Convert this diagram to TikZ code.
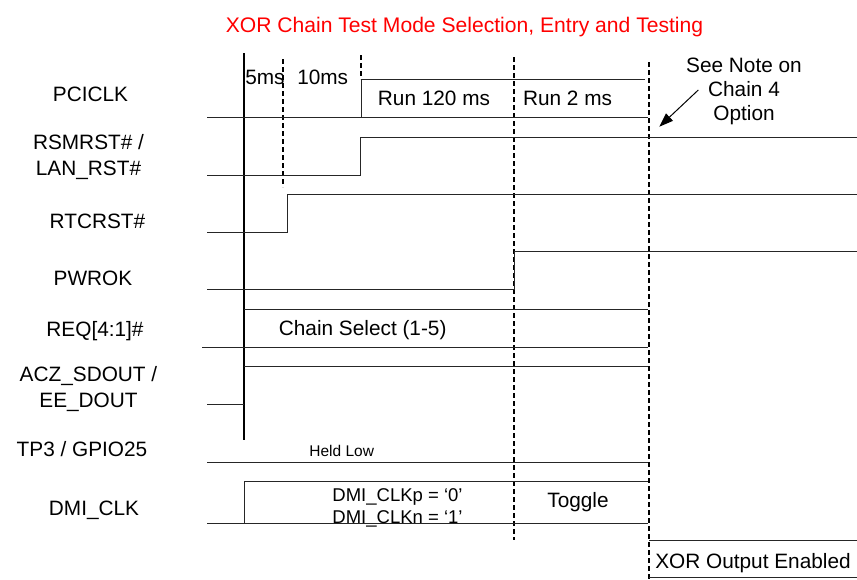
\documentclass[tikz,border=0pt]{standalone}
\usepackage{fontspec}
\setmainfont{Liberation Sans}
\usetikzlibrary{arrows.meta}
\begin{document}
\begin{tikzpicture}[x=1pt,y=-1pt,
  sig/.style={line width=1pt, draw=black!85},
  mainline/.style={line width=2pt, draw=black},
  timemark/.style={line width=1.4pt, draw=black, dash pattern=on 5pt off 3pt},
  lbl/.style={font=\fontsize{20.8}{25.5}\selectfont, align=center, anchor=base, inner sep=0pt},
  small/.style={font=\fontsize{15.5}{18}\selectfont, anchor=base, inner sep=0pt},
  mid/.style={font=\fontsize{18.5}{22}\selectfont, align=center, anchor=base, inner sep=0pt},
  note/.style={font=\fontsize{20.8}{24}\selectfont, align=center, anchor=base, inner sep=0pt},
  pointer/.style={line width=1pt, draw=black, -{Triangle[length=14pt,width=10pt]}}
]
\useasboundingbox (0,0) rectangle (857,579);

% title
\node[lbl, text=red, font=\fontsize{21.1}{25}\selectfont] (title) at (464.5,32.5) {XOR Chain Test Mode Selection, Entry and Testing};

% signal names (base anchor = baseline of last line)
\node[lbl] (nPCI) at (90.5,101.5) {PCICLK};
\node[lbl] (nRSM) at (88.5,175) {RSMRST\# /\\LAN\_RST\#};
\node[lbl] (nRTC) at (97.5,228) {RTCRST\#};
\node[lbl] (nPWR) at (93,285) {PWROK};
\node[lbl] (nREQ) at (95,336.7) {REQ[4:1]\#};
\node[lbl] (nACZ) at (88.5,407) {ACZ\_SDOUT /\\EE\_DOUT};
\node[lbl] (nTP3) at (82,456.7) {TP3 / GPIO25};
\node[lbl] (nDMI) at (94,515) {DMI\_CLK};

% time reference lines
\draw[mainline] (244,53) -- (244,440);
\draw[timemark] (283,59) -- (283,187);
\draw[timemark] (361,55) -- (361,79);
\draw[timemark] (514,57) -- (514,540);
\draw[timemark] (649,62) -- (649,579);

% PCICLK
\draw[sig] (361,117.5) -- (361,79) -- (645,79);
\draw[sig] (207,117.5) -- (648,117.5);
% RSMRST
\draw[sig] (207,175) -- (360,175) -- (360,137) -- (857,137);
% RTCRST
\draw[sig] (207,232.7) -- (287,232.7) -- (287,194.3) -- (857,194.3);
% PWROK
\draw[sig] (207,289.5) -- (514,289.5) -- (514,251.7) -- (857,251.7);
% REQ
\draw[sig] (244,309.3) -- (648,309.3);
\draw[sig] (202,347.3) -- (648,347.3);
% ACZ
\draw[sig] (207,404.3) -- (244,404.3);
\draw[sig] (244,366.7) -- (648,366.7);
% TP3
\draw[sig] (207,462.7) -- (648,462.7);
% DMI
\draw[sig] (244,523.3) -- (244,481.7) -- (648,481.7);
\draw[sig] (207,523.3) -- (648,523.3);
% XOR
\draw[sig] (649,540) -- (857,540);
\draw[sig] (649,577.3) -- (857,577.3);

% timing texts
\node[lbl] (t5) at (265,84.3) {5ms};
\node[lbl] (t10) at (322.7,84.3) {10ms};
\node[lbl] (run120) at (434,105.5) {Run 120 ms};
\node[lbl] (run2) at (567.5,105.5) {Run 2 ms};
\node[lbl] (chain) at (362.7,335) {Chain Select (1-5)};
\node[small] (held) at (341.7,456.7) {Held Low};
\node[mid] (dmival) at (397.5,523) {DMI\_CLKp = ‘0’\\DMI\_CLKn = ‘1’};
\node[lbl] (toggle) at (578,507) {Toggle};
\node[lbl] (xor) at (753,568) {XOR Output Enabled};

% note
\node[note] (seenote) at (744,120) {See Note on\\Chain 4\\Option};
\coordinate (arrS) at (698.3,90);
\coordinate (arrE) at (659.3,126.7);
\draw[pointer] (arrS) -- (arrE);
\end{tikzpicture}
\end{document}
